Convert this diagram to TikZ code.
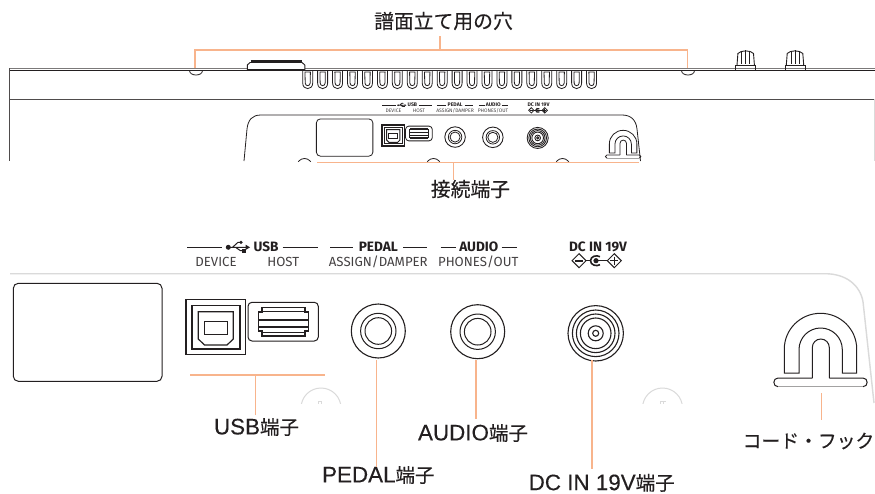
\documentclass[tikz,border=0pt]{standalone}
\usepackage{fontspec}
\setmainfont{Liberation Sans}
\newfontfamily\cjk[FakeBold=0.25]{Noto Sans CJK JP}
\newfontfamily\latin[FakeBold=0.2]{Liberation Sans}
\newfontfamily\din{Fira Sans}
\definecolor{ink}{HTML}{231F20}
\definecolor{lead}{HTML}{F8B48C}
\definecolor{pale}{HTML}{DADADA}
\newcommand{\lab}[2]{{\latin\fontsize{22.4}{24}\selectfont #1}{\cjk\fontsize{19.5}{24}\selectfont #2}}
\newcommand{\jap}[1]{{\cjk\fontsize{19.8}{24}\selectfont #1}}
\newcommand{\kana}[1]{{\cjk\fontsize{18.8}{24}\selectfont #1}}
\tikzset{
 leader/.style={draw=lead,line width=1.1pt},
 callout/.style={inner sep=0pt,text=ink,anchor=center},
 small/.style={inner sep=0pt,text=ink!85,font=\din\fontsize{13.2}{14}\selectfont},
 heavy/.style={inner sep=0pt,text=ink,font=\din\bfseries\fontsize{13.6}{15}\selectfont},
 lineart/.style={draw=ink,line width=\lw},
 ruleline/.style={draw=ink,line width=1pt},
}
\newlength{\lw}
% the connector panel, drawn in the coordinates of the large view
\newcommand{\panel}[2]{%
 \setlength{\lw}{#1}%
 % blank plate
 \draw[lineart,rounded corners=#1*5] (13.3,283.3) rectangle (162,381.3);
 % USB B
 \draw[lineart,line width=1.5*\lw] (186,299.3) rectangle (245.5,354.3);
 \draw[lineart,line width=1.2*\lw] (192,305.5) rectangle (240,349);
 \draw[lineart,line width=1.2*\lw] (198.3,311.7) -- (233.3,311.7) -- (233.3,339) -- (227,345) -- (204.5,345) -- (198.3,339) -- cycle;
 \draw[lineart,line width=1.2*\lw] (204.3,321.7) rectangle (227.7,334.3);
 % USB A
 \draw[lineart,rounded corners=#1*4] (248,302.3) rectangle (318.3,341);
 \draw[lineart,line width=1.2*\lw] (258.3,312) -- (262,312) -- (262,307.5) -- (305,307.5) -- (305,312) -- (308.3,312) -- (308.3,331) -- (305,331) -- (305,336) -- (262,336) -- (262,331) -- (258.3,331) -- cycle;
 \draw[lineart] (262,311) -- (305,311) (262,332) -- (305,332);
 \draw[lineart,line width=1.2*\lw] (258.3,320) -- (308.3,320) (258.3,327) -- (308.3,327);
 % jacks
 \foreach \cx/\cy in {378.3/331,477.7/331.7}{
  \draw[lineart,line width=1.1*\lw] (\cx,\cy) circle[radius=27];
  \draw[lineart] (\cx,\cy) circle[radius=17.7];
  \draw[lineart] (\cx,\cy) circle[radius=13.3];
 }
 % DC jack
 \draw[lineart,line width=1.1*\lw] (595.7,333.3) circle[radius=27.7];
 \foreach \r in {23.3,19.3,15.3,7.5,3}{\draw[lineart,line width=1.1*\lw] (595.7,333.3) circle[radius=\r];}
 % cord hook
 \draw[lineart] (812.3,378) -- (812.3,347.5) .. controls (812.3,342.8) and (816.1,339) .. (820.8,339) .. controls (825.5,339) and (829.3,342.8) .. (829.3,347.5) -- (829.3,378);
 \draw[lineart] (784.3,373) -- (784.3,349) .. controls (784.3,329.3) and (800.5,313.3) .. (820.5,313.3) .. controls (840.5,313.3) and (856.7,329.3) .. (856.7,349) -- (856.7,373) -- (842.3,373) -- (842.3,349.6) .. controls (842.3,337.7) and (832.6,328) .. (820.6,328) .. controls (808.7,328) and (799,337.7) .. (799,349.6) -- (799,373) -- cycle;
 \draw[lineart] (812.3,378) -- (778,378) .. controls (772.5,378) and (772.5,386.7) .. (778,386.7);
 \draw[lineart] (829.3,378) -- (863,378) .. controls (868.5,378) and (868.5,386.7) .. (863,386.7);
 \draw[pale!70!ink,line width=\lw] (778,386.7) -- (863,386.7);
 % labels
 \draw[lineart] (187.3,247) -- (221.7,247) (282.7,247) -- (318.3,247);
 \draw[lineart] (330.3,247) -- (353.3,247) (403.3,247) -- (426.7,247);
 \draw[lineart] (440.7,247) -- (456,247) (501.7,247) -- (517,247);
 \node[heavy,transform shape] (#2usb) at (266,246.7) {USB};
 \node[heavy,transform shape] (#2ped) at (378.3,246.7) {PEDAL};
 \node[heavy,transform shape] (#2aud) at (478.8,246.7) {AUDIO};
 \node[heavy,transform shape] (#2dc) at (598,246.7) {DC IN 19V};
 \node[small,transform shape] (#2dev) at (216,262) {DEVICE};
 \node[small,transform shape] (#2host) at (283.3,262) {HOST};
 \node[small,transform shape] (#2asg) at (378.3,262) {ASSIGN/DAMPER};
 \node[small,transform shape] (#2pho) at (478.2,262) {PHONES/OUT};
 % USB trident
 \fill[ink] (228.3,247.3) circle[radius=2.5];
 \draw[lineart] (228.3,247.3) -- (246,247.3) (232.5,247.3) -- (238,242.3) -- (240,242.3) (235.5,247.3) -- (240.5,250.7) -- (243,250.7);
 \fill[ink] (250,247.3) -- (245.5,244.6) -- (245.5,250) -- cycle;
 \fill[ink] (241,242.3) circle[radius=1.8];
 \fill[ink] (242,249) rectangle (245.6,252.6);
 % DC polarity
 \draw[lineart] (579,253.7) -- (586,260.7) -- (579,267.7) -- (572,260.7) -- cycle;
 \draw[lineart] (614.3,253.7) -- (621.3,260.7) -- (614.3,267.7) -- (607.3,260.7) -- cycle;
 \draw[lineart,line width=1.6*\lw] (575,260.7) -- (583,260.7);
 \draw[lineart] (586,260.7) -- (591,260.7) (596,260.7) -- (607.3,260.7);
 \draw[lineart] (610.3,260.7) -- (618.3,260.7) (614.3,256.7) -- (614.3,264.7);
 \draw[lineart,line width=1.6*\lw] (600,256.7) .. controls (596.5,254.7) and (590.5,256.2) .. (590.5,260.7) .. controls (590.5,265.2) and (596.5,266.7) .. (600,264.7);
 \fill[ink] (596,260.7) circle[radius=2.6];
}
\begin{document}
\begin{tikzpicture}[x=1pt,y=-1pt]
\useasboundingbox (0,0) rectangle (875,493);
\fill[white] (0,0) rectangle (875,493);

%%% upper view
\draw[ink!60,line width=1pt] (9,68) -- (875,68);
\draw[ruleline] (9,70) -- (875,70);
\draw[ink!80,line width=.9pt] (9,99) -- (875,99);
\draw[ink!80,line width=.8pt] (9.5,68) -- (9.5,161);
\draw[pale,line width=.8pt] (874.6,99) -- (874.6,161);
% stand holes
\foreach \hx in {196,688}{
 \draw[ink,line width=.8pt] (\hx-6.5,70.5) .. controls (\hx-6.5,76.5) and (\hx+6.5,76.5) .. (\hx+6.5,70.5);
}
% display block
\filldraw[fill=white,draw=ink,line width=.9pt] (247.3,69.5) -- (247.3,65) -- (250,62.5) -- (302,62.5) -- (304.8,65) -- (304.8,69.5) -- cycle;
\draw[ink,line width=2.4pt] (250.5,61.2) -- (301.5,61.2);
% ventilation slots
\foreach \i in {0,...,19}{
 \pgfmathsetmacro{\sx}{307.7+14.94*\i}
 \draw[ink,line width=.8pt] (\sx-5,70.5) -- (\sx-5,83) .. controls (\sx-5,90.5) and (\sx+5,90.5) .. (\sx+5,83) -- (\sx+5,70.5);
 \draw[ink,line width=.8pt] (\sx-2.7,72) -- (\sx-2.5,83) .. controls (\sx-2.5,86.5) and (\sx+2.5,86.5) .. (\sx+2.5,83) -- (\sx+2.7,72) -- cycle;
}
% knobs
\foreach \kx in {745.7,795}{
 \draw[ink,line width=.9pt] (\kx-10,69.5) -- (\kx-10,65) -- (\kx+10,65) -- (\kx+10,69.5);
 \draw[ink,line width=.9pt] (\kx-8.7,65) -- (\kx-7.8,53.5) .. controls (\kx-5,50) and (\kx+5,50) .. (\kx+7.8,53.5) -- (\kx+8.7,65);
 \draw[ink,line width=.8pt] (\kx-4,51.5) -- (\kx-4,64) (\kx,50) -- (\kx,64) (\kx+4,51.5) -- (\kx+4,64);
}
% small panel outline
\draw[ink,line width=.8pt] (244,161) -- (247,129) .. controls (248,120) and (252,115) .. (261,115) -- (622,115) .. controls (631,115) and (636,120) .. (637,129) -- (640.5,161);
\begin{scope}
 \clip (240,100) rectangle (645,161);
 \foreach \fx in {304.5,433.5,562.5}{\draw[ink,line width=.8pt] (\fx,166) circle[radius=7.5];}
\end{scope}
\begin{scope}[shift={(382,125)},scale=.38,shift={(-186,-299.3)}]
 \panel{.8pt}{s}
\end{scope}

%%% lower view
\draw[pale,line width=1.4pt] (10,273.7) -- (825,273.7) .. controls (846,273.7) and (860,285) .. (863,301.7) -- (874,403);
\begin{scope}
 \clip (290,380) rectangle (700,403.5);
 \foreach \fx in {321,662.5}{\draw[pale,line width=1pt] (\fx,408) circle[radius=20];}
\end{scope}
\draw[pale,line width=.9pt] (318.3,403.5) -- (318.3,401) -- (321.6,401) -- (321.6,403.5);
\draw[pale,line width=.9pt] (660.5,403.5) -- (660.5,401) -- (663,401) (663.4,403.5) -- (663.4,401) -- (665.5,401);
\panel{1pt}{b}

%%% callouts
\node[callout] (holes) at (443.5,21) {\jap{譜面立て用の穴}};
\coordinate (holeL) at (195,68);
\coordinate (holeR) at (687.5,68);
\coordinate (holeT) at (440,36);
\draw[leader] (holeL) |- (holeR |- 0,50) -- (holeR);
\draw[leader] (holeT) -- (holeT |- 0,50);

\node[callout] (conn) at (470.5,189) {\jap{接続端子}};
\coordinate (barL) at (317,162.5);
\coordinate (barR) at (639,162.5);
\coordinate (barS) at (453.7,180);
\draw[leader] (barL) -- (barR);
\draw[leader] (barS) -- (barS |- barL);

\node[callout] (usb) at (256.5,427) {\lab{USB}{端子}};
\coordinate (ubL) at (190.3,375);
\coordinate (ubR) at (325,375);
\coordinate (ubS) at (255.7,415);
\draw[leader] (ubL) -- (ubR);
\draw[leader] (ubS) -- (ubS |- ubL);

\node[callout] (pedal) at (378.3,475) {\lab{PEDAL}{端子}};
\coordinate (pedT) at (376.7,360);
\coordinate (pedB) at (376.7,467);
\draw[leader] (pedT) -- (pedB);

\node[callout] (audio) at (473,433) {\lab{AUDIO}{端子}};
\coordinate (audT) at (476,360);
\coordinate (audB) at (476,419);
\draw[leader] (audT) -- (audB);

\node[callout] (dcin) at (601.7,482.8) {\lab{DC IN 19V}{端子}};
\coordinate (dcT) at (592,360);
\coordinate (dcB) at (592,469);
\draw[leader] (dcT) -- (dcB);

\node[callout] (hook) at (808.5,441) {\kana{コード・フック}};
\coordinate (hkT) at (821.7,393);
\coordinate (hkB) at (821.7,420);
\draw[leader] (hkT) -- (hkB);
\end{tikzpicture}
\end{document}
